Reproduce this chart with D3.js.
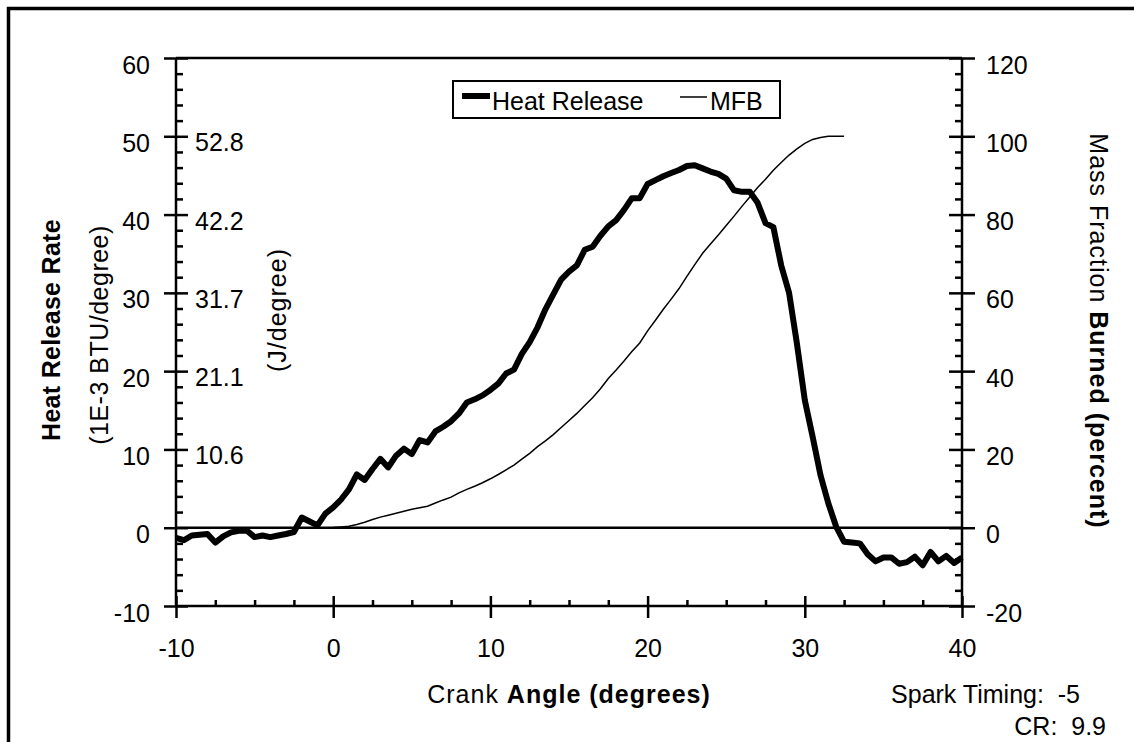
<!DOCTYPE html>
<meta charset="utf-8">
<style>

body {
  margin: 0;
  background: #fff;
}

svg {
  display: block;
  font-family: Arial, "Liberation Sans", sans-serif;
}

.axis path {
  display: none;
}

.axis line {
  stroke: #000;
  stroke-width: 2.5px;
}

.axis text {
  font-size: 25px;
  fill: #000;
}

.frame {
  fill: none;
  stroke: #000;
  stroke-width: 2.5px;
}

.hr {
  fill: none;
  stroke: #000;
  stroke-width: 6px;
  stroke-linejoin: round;
}

.mfb {
  fill: none;
  stroke: #000;
  stroke-width: 1.5px;
}

.title {
  font-size: 25px;
  fill: #000;
}

</style>
<svg width="1134" height="742"></svg>
<script src="https://d3js.org/d3.v7.min.js"></script>
<script>

var svg = d3.select("svg"),
    width = +svg.attr("width"),
    height = +svg.attr("height");

// Crank angle samples (degrees) and heat release rate (1E-3 BTU/degree)
var hrAngle = [-10, -9.5, -9, -8.5, -8, -7.5, -7, -6.5, -6, -5.5, -5, -4.5, -4, -3.5, -3, -2.5,
  -2, -1.5, -1, -0.5, 0, 0.5, 1, 1.5, 2, 2.5, 3, 3.5, 4, 4.5, 5, 5.5, 6, 6.5, 7, 7.5,
  8, 8.5, 9, 9.5, 10, 10.5, 11, 11.5, 12, 12.5, 13, 13.5, 14, 14.5, 15, 15.5, 16, 16.5,
  17, 17.5, 18, 18.5, 19, 19.5, 20, 20.5, 21, 21.5, 22, 22.5, 23, 23.5, 24, 24.5, 25,
  25.5, 26, 26.5, 27, 27.5, 28, 28.5, 29, 29.5, 30, 30.5, 31, 31.5, 32, 32.5, 33, 33.5,
  34, 34.5, 35, 35.5, 36, 36.5, 37, 37.5, 38, 38.5, 39, 39.5, 40];
var heatRelease = [-1.3, -1.6, -1.0, -0.9, -0.8, -1.9, -1.1, -0.6, -0.4, -0.35, -1.2, -1.0,
  -1.2, -1.0, -0.8, -0.55, 1.3, 0.8, 0.3, 1.8, 2.6, 3.6, 4.9, 6.8, 6.1, 7.5, 8.8, 7.7,
  9.2, 10.1, 9.4, 11.2, 10.9, 12.3, 12.9, 13.6, 14.6, 16.0, 16.4, 16.9, 17.6, 18.4, 19.7,
  20.2, 22.2, 23.7, 25.6, 27.9, 29.8, 31.7, 32.7, 33.5, 35.5, 35.9, 37.3, 38.5, 39.3,
  40.6, 42.1, 42.1, 43.9, 44.4, 44.9, 45.3, 45.7, 46.2, 46.3, 45.9, 45.5, 45.2, 44.6,
  43.1, 42.9, 42.9, 41.5, 38.9, 38.4, 33.5, 30.0, 23.5, 16.3, 11.6, 6.7, 3.1, 0.1, -1.8,
  -1.9, -2.0, -3.4, -4.3, -3.8, -3.8, -4.6, -4.4, -3.7, -4.8, -3.1, -4.3, -3.6, -4.5, -3.8];

// Mass fraction burned (percent)
var mfbAngle = [-0.5, 0, 0.5, 1, 1.5, 2, 2.5, 3, 3.5, 4, 4.5, 5, 5.5, 6, 6.5, 7, 7.5, 8,
  8.5, 9, 9.5, 10, 10.5, 11, 11.5, 12, 12.5, 13, 13.5, 14, 14.5, 15, 15.5, 16, 16.5, 17,
  17.5, 18, 18.5, 19, 19.5, 20, 20.5, 21, 21.5, 22, 22.5, 23, 23.5, 24, 24.5, 25, 25.5,
  26, 26.5, 27, 27.5, 28, 28.5, 29, 29.5, 30, 30.5, 31, 31.5, 32, 32.5];
var mfb = [0, 0.05, 0.2, 0.35, 0.8, 1.4, 2.1, 2.7, 3.2, 3.7, 4.2, 4.7, 5.1, 5.5, 6.3, 7.1,
  7.8, 8.9, 9.8, 10.6, 11.5, 12.5, 13.6, 14.8, 16.0, 17.5, 19.0, 20.7, 22.2, 23.8, 25.6,
  27.4, 29.2, 31.2, 33.2, 35.5, 38.1, 40.3, 42.6, 45.0, 47.2, 50.3, 53.0, 55.8, 58.4,
  61.1, 64.2, 67.2, 70.1, 72.5, 74.8, 77.2, 79.6, 82.1, 84.5, 86.9, 89.0, 91.3, 93.3,
  95.2, 96.8, 98.2, 99.2, 99.7, 100, 100, 100];

// Tick values
var xTicks = [-10, 0, 10, 20, 30, 40];
var xMinor = [-7.5, -5, -2.5, 2.5, 5, 7.5, 12.5, 15, 17.5, 22.5, 25, 27.5, 32.5, 35, 37.5];
var yTicks = [-10, 0, 10, 20, 30, 40, 50, 60];
var y2Ticks = [-20, 0, 20, 40, 60, 80, 100, 120];
var jTicks = [10, 20, 30, 40, 50];
var jLabels = ["10.6", "21.1", "31.7", "42.2", "52.8"];

var x = d3.scaleLinear().domain([-10, 40]).range([176, 962]);
var y = d3.scaleLinear().domain([-10, 60]).range([606, 58]);
var y2 = d3.scaleLinear().domain([-20, 120]).range([606, 58]);

var yMinor = d3.range(-10, 60.1, 2).filter(function(d) { return yTicks.indexOf(d) < 0; });
var y2Minor = d3.range(-20, 120.1, 4).filter(function(d) { return y2Ticks.indexOf(d) < 0; });

// plain hyphen for negatives, like the original
var fmt = function(d) { return String(d); };

// outer frame (only top and left edges are visible)
svg.append("rect")
    .attr("x", 8.5)
    .attr("y", 8.5)
    .attr("width", 1300)
    .attr("height", 900)
    .attr("fill", "none")
    .attr("stroke", "#000")
    .attr("stroke-width", 3.5);

// plot box + zero line
svg.append("line").attr("class", "frame")
    .attr("x1", x(-10)).attr("x2", x(40)).attr("y1", y(60)).attr("y2", y(60));
svg.append("line").attr("class", "frame")
    .attr("x1", x(-10)).attr("x2", x(40)).attr("y1", y(0)).attr("y2", y(0));
svg.append("line").attr("class", "frame")
    .attr("x1", x(-10)).attr("x2", x(40)).attr("y1", y(-10)).attr("y2", y(-10));
svg.append("line").attr("class", "frame")
    .attr("x1", x(-10)).attr("x2", x(-10)).attr("y1", y(60)).attr("y2", y(-10));
svg.append("line").attr("class", "frame")
    .attr("x1", x(40)).attr("x2", x(40)).attr("y1", y(60)).attr("y2", y(-10));

// left axis: majors cross the axis, minors inside
var gl = svg.append("g").attr("class", "axis").attr("transform", "translate(" + x(-10) + ",0)");
gl.call(d3.axisLeft(y).tickValues(yTicks).tickSize(12).tickPadding(14).tickFormat(fmt));
gl.selectAll("text").attr("dy", "0.6em");
svg.append("g").attr("class", "axis").attr("transform", "translate(" + x(-10) + ",0)")
    .call(d3.axisRight(y).tickValues(yTicks).tickSize(12).tickFormat(""));
svg.append("g").attr("class", "axis").attr("transform", "translate(" + x(-10) + ",0)")
    .call(d3.axisRight(y).tickValues(yMinor).tickSize(7).tickFormat(""));

// J/degree labels next to the left axis
svg.append("g").attr("class", "axis")
  .selectAll("text")
  .data(jTicks)
  .enter().append("text")
    .attr("x", 195)
    .attr("y", function(d) { return y(d); })
    .attr("dy", "0.6em")
    .text(function(d, i) { return jLabels[i]; });

// right axis
var gr = svg.append("g").attr("class", "axis").attr("transform", "translate(" + x(40) + ",0)");
gr.call(d3.axisRight(y2).tickValues(y2Ticks).tickSize(13).tickPadding(11).tickFormat(fmt));
gr.selectAll("text").attr("dy", "0.6em");
svg.append("g").attr("class", "axis").attr("transform", "translate(" + x(40) + ",0)")
    .call(d3.axisLeft(y2).tickValues(y2Ticks).tickSize(13).tickFormat(""));
svg.append("g").attr("class", "axis").attr("transform", "translate(" + x(40) + ",0)")
    .call(d3.axisLeft(y2).tickValues(y2Minor).tickSize(7).tickFormat(""));

// bottom axis
svg.append("g").attr("class", "axis").attr("transform", "translate(0," + y(-10) + ")")
    .call(d3.axisBottom(x).tickValues(xTicks).tickSize(12).tickPadding(21).tickFormat(fmt));
svg.append("g").attr("class", "axis").attr("transform", "translate(0," + y(-10) + ")")
    .call(d3.axisTop(x).tickValues(xTicks).tickSize(10).tickFormat(""));
svg.append("g").attr("class", "axis").attr("transform", "translate(0," + y(-10) + ")")
    .call(d3.axisTop(x).tickValues(xMinor).tickSize(6).tickFormat(""));

// curves
var hrLine = d3.line()
    .x(function(d, i) { return x(hrAngle[i]); })
    .y(function(d) { return y(d); });

var mfbLine = d3.line()
    .x(function(d, i) { return x(mfbAngle[i]); })
    .y(function(d) { return y2(d); });

svg.append("path")
    .datum(mfb)
    .attr("class", "mfb")
    .attr("d", mfbLine);

svg.append("path")
    .datum(heatRelease)
    .attr("class", "hr")
    .attr("d", hrLine);

// legend
var legend = svg.append("g").attr("class", "legend");
legend.append("rect")
    .attr("x", 453).attr("y", 81)
    .attr("width", 327).attr("height", 37)
    .attr("fill", "#fff")
    .attr("stroke", "#000")
    .attr("stroke-width", 2);
legend.append("line")
    .attr("x1", 462).attr("x2", 490).attr("y1", 96).attr("y2", 96)
    .attr("stroke", "#000").attr("stroke-width", 6);
legend.append("text").attr("class", "title")
    .attr("x", 492).attr("y", 110).text("Heat Release");
legend.append("line")
    .attr("x1", 680).attr("x2", 707).attr("y1", 97).attr("y2", 97)
    .attr("stroke", "#000").attr("stroke-width", 1.5);
legend.append("text").attr("class", "title")
    .attr("x", 710).attr("y", 110).text("MFB");

// axis titles
svg.append("text").attr("class", "title")
    .attr("transform", "translate(60,330) rotate(-90)")
    .attr("text-anchor", "middle")
    .attr("font-weight", "bold")
    .style("letter-spacing", "0.3px")
    .text("Heat Release Rate");

svg.append("text").attr("class", "title")
    .attr("transform", "translate(108,335) rotate(-90)")
    .attr("text-anchor", "middle")
    .style("letter-spacing", "0.5px")
    .text("(1E-3 BTU/degree)");

svg.append("text").attr("class", "title")
    .attr("transform", "translate(286,310) rotate(-90)")
    .attr("text-anchor", "middle")
    .style("letter-spacing", "1px")
    .text("(J/degree)");

var rt = svg.append("text").attr("class", "title")
    .attr("transform", "translate(1090,331) rotate(90)")
    .attr("text-anchor", "middle")
    .style("letter-spacing", "1px");
rt.append("tspan").text("Mass Fraction ");
rt.append("tspan").attr("font-weight", "bold").text("Burned (percent)");

var xt = svg.append("text").attr("class", "title")
    .attr("x", 569).attr("y", 703)
    .attr("text-anchor", "middle")
    .style("letter-spacing", "1px");
xt.append("tspan").text("Crank ");
xt.append("tspan").attr("font-weight", "bold").text("Angle (degrees)");

// run notes
svg.append("text").attr("class", "title")
    .attr("x", 1080).attr("y", 703)
    .attr("text-anchor", "end")
    .style("white-space", "pre")
    .text("Spark Timing:  -5");

svg.append("text").attr("class", "title")
    .attr("x", 1106).attr("y", 735)
    .attr("text-anchor", "end")
    .style("white-space", "pre")
    .text("CR:  9.9");

</script>
